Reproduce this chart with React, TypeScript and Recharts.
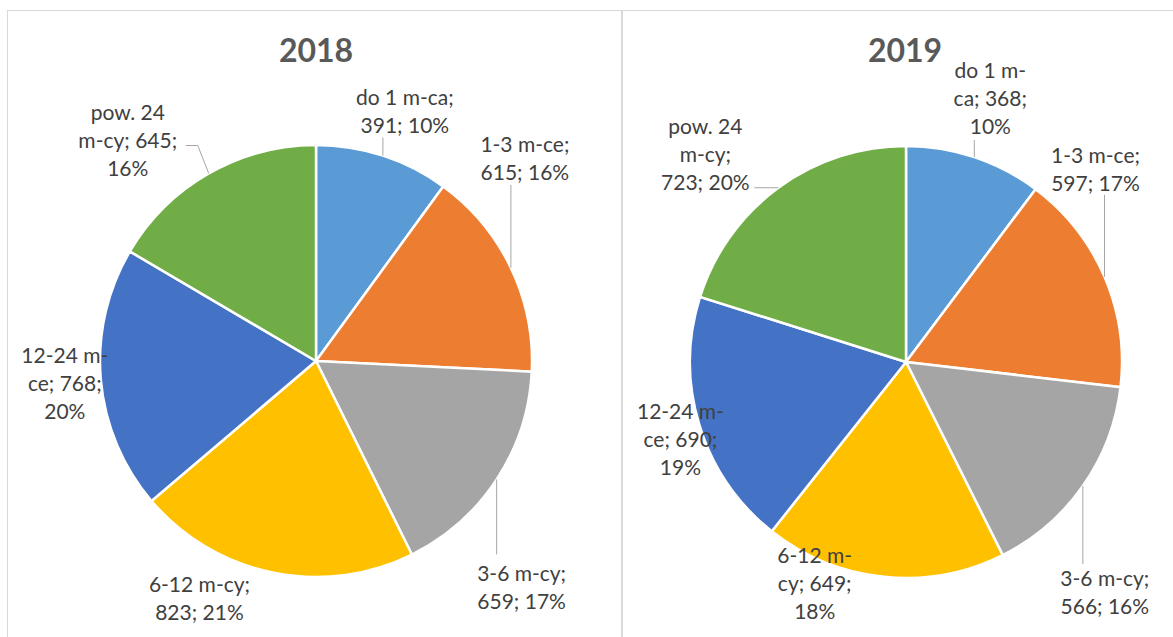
import { PieChart, Pie, Cell } from "recharts"

const categories = ["do 1 m-ca", "1-3 m-ce", "3-6 m-cy", "6-12 m-cy", "12-24 m-ce", "pow. 24 m-cy"]
const values2018 = [391, 615, 659, 823, 768, 645]
const values2019 = [368, 597, 566, 649, 690, 723]
// percentages as printed on the labels
const pct2018 = [10, 16, 17, 21, 20, 16]
const pct2019 = [10, 17, 16, 18, 19, 20]

const COLORS = ["#5B9BD5", "#ED7D31", "#A5A5A5", "#FFC000", "#4472C4", "#70AD47"]
const FONT = "Lato, 'Open Sans', sans-serif"
const RAD = Math.PI / 180

// label placement: offset of the text block from the slice's outer edge, words per line, leader line
type LabelLayout = { dx: number; dy: number; wrap: number[]; leader?: number[][] }

const layout2018: LabelLayout[] = [
  { dx: 22, dy: -45, wrap: [4, 2], leader: [[0, -18]] },
  { dx: 14, dy: -110, wrap: [3, 2], leader: [[0, -83]] },
  { dx: 25, dy: 107, wrap: [3, 2], leader: [[0, 75]] },
  { dx: -73, dy: 25, wrap: [3, 2] },
  { dx: -36, dy: 3, wrap: [2, 2, 1] },
  { dx: -81, dy: -34, wrap: [2, 3, 1], leader: [[-11, -28], [-23, -28]] },
]

const layout2019: LabelLayout[] = [
  { dx: 16, dy: -60, wrap: [3, 2, 1], leader: [[0, -17]] },
  { dx: -9, dy: -108, wrap: [3, 2], leader: [[0, -82]] },
  { dx: 22, dy: 105, wrap: [3, 2], leader: [[0, 78]] },
  { dx: -69, dy: 6, wrap: [2, 2, 1] },
  { dx: -19, dy: 13, wrap: [2, 2, 1] },
  { dx: -73, dy: -34, wrap: [2, 2, 2], leader: [[-24, 0]] },
]

const data2018 = categories.map((name, i) => ({ name, value: values2018[i], pct: pct2018[i] }))
const data2019 = categories.map((name, i) => ({ name, value: values2019[i], pct: pct2019[i] }))

function splitLines(text: string, wrap: number[]) {
  const tokens = text.split(/(?<= |m-)/)
  const lines: string[] = []
  let k = 0
  wrap.forEach((n) => {
    lines.push(tokens.slice(k, k + n).join("").trim())
    k += n
  })
  return lines
}

function makeLabel(layouts: LabelLayout[]) {
  return (props: any) => {
    const { cx, cy, midAngle, outerRadius, index, payload } = props
    const lay = layouts[index]
    const ex = cx + outerRadius * Math.cos(-midAngle * RAD)
    const ey = cy + outerRadius * Math.sin(-midAngle * RAD)
    const lx = ex + lay.dx
    const ly = ey + lay.dy
    const p = payload?.payload ?? payload
    const lines = splitLines(`${p.name}; ${p.value}; ${p.pct}%`, lay.wrap)
    const lh = 28
    const top = ly - ((lines.length - 1) * lh) / 2
    let path = ""
    if (lay.leader) {
      path = `M${ex},${ey}` + lay.leader.map(([a, b]) => ` L${ex + a},${ey + b}`).join("")
    }
    return (
      <g key={`lbl-${index}`}>
        {path && <path d={path} stroke="#A6A6A6" strokeWidth={1} fill="none" />}
        <text x={lx} y={top} textAnchor="middle" fill="#404040" fontSize={21} fontFamily={FONT}>
          {lines.map((l, i) => (
            <tspan key={i} x={lx} y={top + i * lh} dominantBaseline="central">
              {l}
            </tspan>
          ))}
        </text>
      </g>
    )
  }
}

const titleStyle: React.CSSProperties = {
  position: "absolute",
  top: 30,
  width: 200,
  textAlign: "center",
  fontFamily: FONT,
  fontWeight: 700,
  fontSize: 32,
  color: "#595959",
  lineHeight: "40px",
}

export default function App() {
  return (
    <div style={{ position: "absolute", left: 0, top: 0, width: 1173, height: 637, overflow: "hidden", background: "#fff" }}>
      <div style={{ position: "absolute", left: 7, top: 10, width: 613, height: 700, border: "1px solid #D9D9D9" }} />
      <div style={{ position: "absolute", left: 622, top: 10, width: 600, height: 700, border: "1px solid #D9D9D9" }} />
      <div style={{ ...titleStyle, left: 316 - 100 }}>2018</div>
      <div style={{ ...titleStyle, left: 905 - 100 }}>2019</div>
      <div style={{ position: "absolute", left: 0, top: 0 }}>
        <PieChart width={1173} height={637} margin={{ top: 0, right: 0, bottom: 0, left: 0 }}>
          <Pie
            data={data2018}
            dataKey="value"
            cx={316}
            cy={361}
            outerRadius={216}
            startAngle={90}
            endAngle={-270}
            stroke="#fff"
            strokeWidth={2.5}
            label={makeLabel(layout2018)}
            labelLine={false}
            isAnimationActive={false}
          >
            {data2018.map((entry, index) => (
              <Cell key={`c18-${index}`} fill={COLORS[index % COLORS.length]} />
            ))}
          </Pie>
          <Pie
            data={data2019}
            dataKey="value"
            cx={906}
            cy={362}
            outerRadius={216}
            startAngle={90}
            endAngle={-270}
            stroke="#fff"
            strokeWidth={2.5}
            label={makeLabel(layout2019)}
            labelLine={false}
            isAnimationActive={false}
          >
            {data2019.map((entry, index) => (
              <Cell key={`c19-${index}`} fill={COLORS[index % COLORS.length]} />
            ))}
          </Pie>
        </PieChart>
      </div>
    </div>
  )
}
